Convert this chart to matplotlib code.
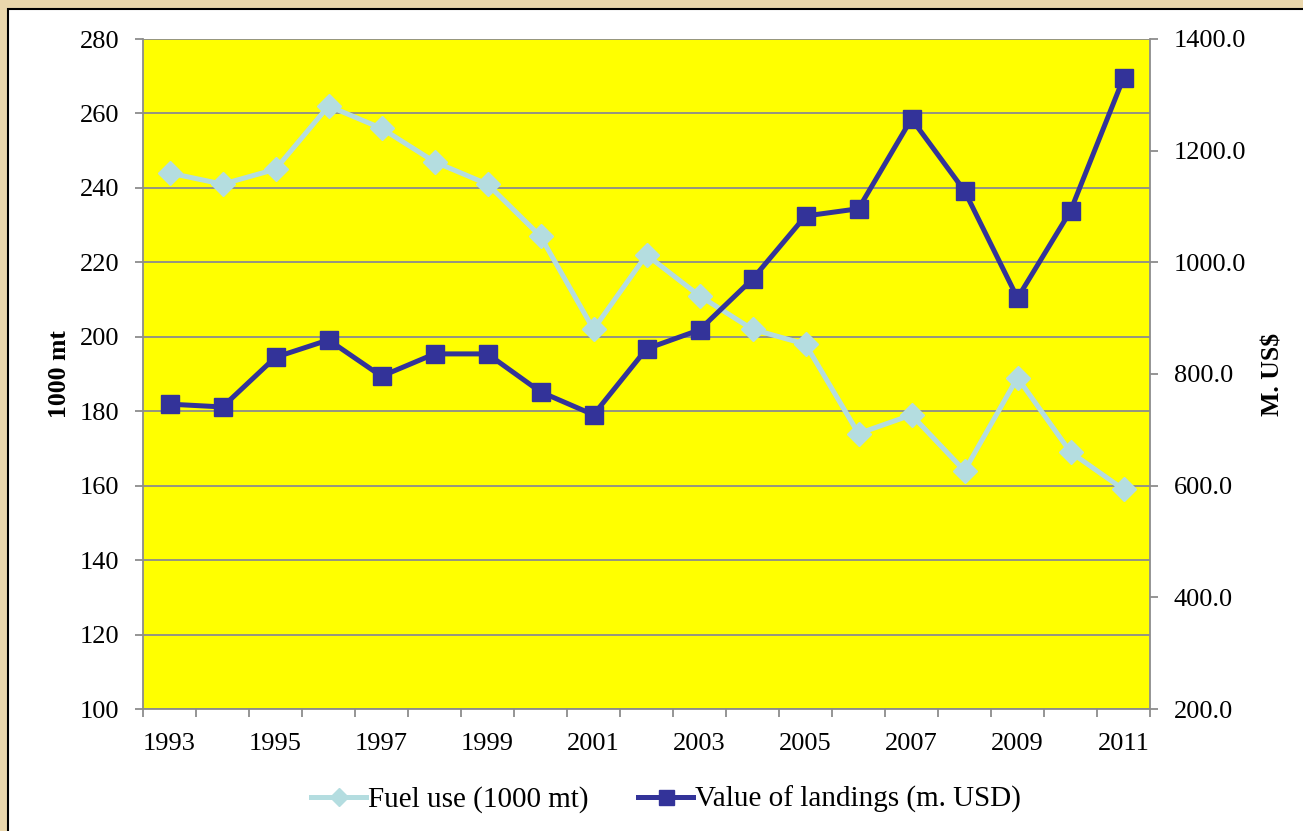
import matplotlib
matplotlib.use("Agg")
import matplotlib.pyplot as plt
from matplotlib.patches import Rectangle
from matplotlib.ticker import FixedLocator, FuncFormatter

years = list(range(1993, 2012))
fuel_use = [244, 241, 245, 262, 256, 247, 241, 227, 202, 222, 211, 202, 198, 174, 179, 164, 189, 169, 159]
landings_value = [746, 741, 830, 861, 796, 836, 836, 768, 727, 845, 879, 970, 1083, 1096, 1257, 1128, 936, 1092, 1330]

plt.rcParams['font.family'] = ['Liberation Serif', 'DejaVu Serif']

fig = plt.figure(figsize=(13.03, 8.31), dpi=100)
fig.patch.set_facecolor('#EAD7AC')

# white chart area with a black frame
frame = Rectangle((8 / 1303, -0.01), 1.02, 1 - 9 / 831 + 0.01,
                  transform=fig.transFigure, facecolor='white',
                  edgecolor='black', linewidth=1.5, zorder=-10)
fig.patches.append(frame)

ax = fig.add_axes([143 / 1303, 1 - 709 / 831, (1150 - 143) / 1303, (709 - 39) / 831])
ax.set_facecolor('#FFFF00')
x = list(range(len(years)))

l1, = ax.plot(x, fuel_use, color='#B4DDE0', linewidth=3.6, marker='D',
              markersize=12, markeredgecolor='#B4DDE0', zorder=3)
ax.set_xlim(-0.5, len(years) - 0.5)
ax.set_ylim(100, 280)
ax.set_yticks(range(100, 281, 20))
ax.grid(axis='y', color='#8C8C8C', linewidth=1.3)
ax.set_axisbelow(True)

ax.set_xticks(x[::2])
ax.set_xticklabels([str(y) for y in years[::2]])
ax.tick_params(axis='x', which='major', length=0, pad=17)
ax.xaxis.set_minor_locator(FixedLocator([i - 0.5 for i in range(len(years) + 1)]))
ax.tick_params(axis='x', which='minor', length=6, color='#8C8C8C', width=1.3)
ax.tick_params(axis='y', length=6, color='#8C8C8C', width=1.3, pad=11)
ax.tick_params(labelsize=19)

for s in ['left', 'bottom', 'right']:
    ax.spines[s].set_color('#8C8C8C')
    ax.spines[s].set_linewidth(1.3)
ax.spines['top'].set_visible(False)

ax.set_ylabel('1000 mt', fontsize=18.5, fontweight='bold', labelpad=6)

ax2 = ax.twinx()
l2, = ax2.plot(x, landings_value, color='#333399', linewidth=3.6, marker='s',
               markersize=13.5, markeredgecolor='#333399', zorder=4)
ax2.set_ylim(200, 1400)
ax2.set_yticks(range(200, 1401, 200))
ax2.yaxis.set_major_formatter(FuncFormatter(lambda v, p: f'{v:.1f}'))
ax2.tick_params(axis='y', length=6, color='#8C8C8C', width=1.3, labelsize=19, pad=11)
for s in ['left', 'bottom', 'right', 'top']:
    ax2.spines[s].set_visible(False)
ax2.set_ylabel('M. US$', fontsize=18.5, fontweight='bold', labelpad=11)

fig.legend([l1, l2], ['Fuel use (1000 mt)', 'Value of landings (m. USD)'],
           loc='center', bbox_to_anchor=(0.511, 0.038), ncol=2, frameon=False,
           fontsize=21, handlelength=1.9, handletextpad=0.05, columnspacing=1.7,
           markerscale=0.8)

fig.savefig('out.png', dpi=100, facecolor=fig.get_facecolor())
